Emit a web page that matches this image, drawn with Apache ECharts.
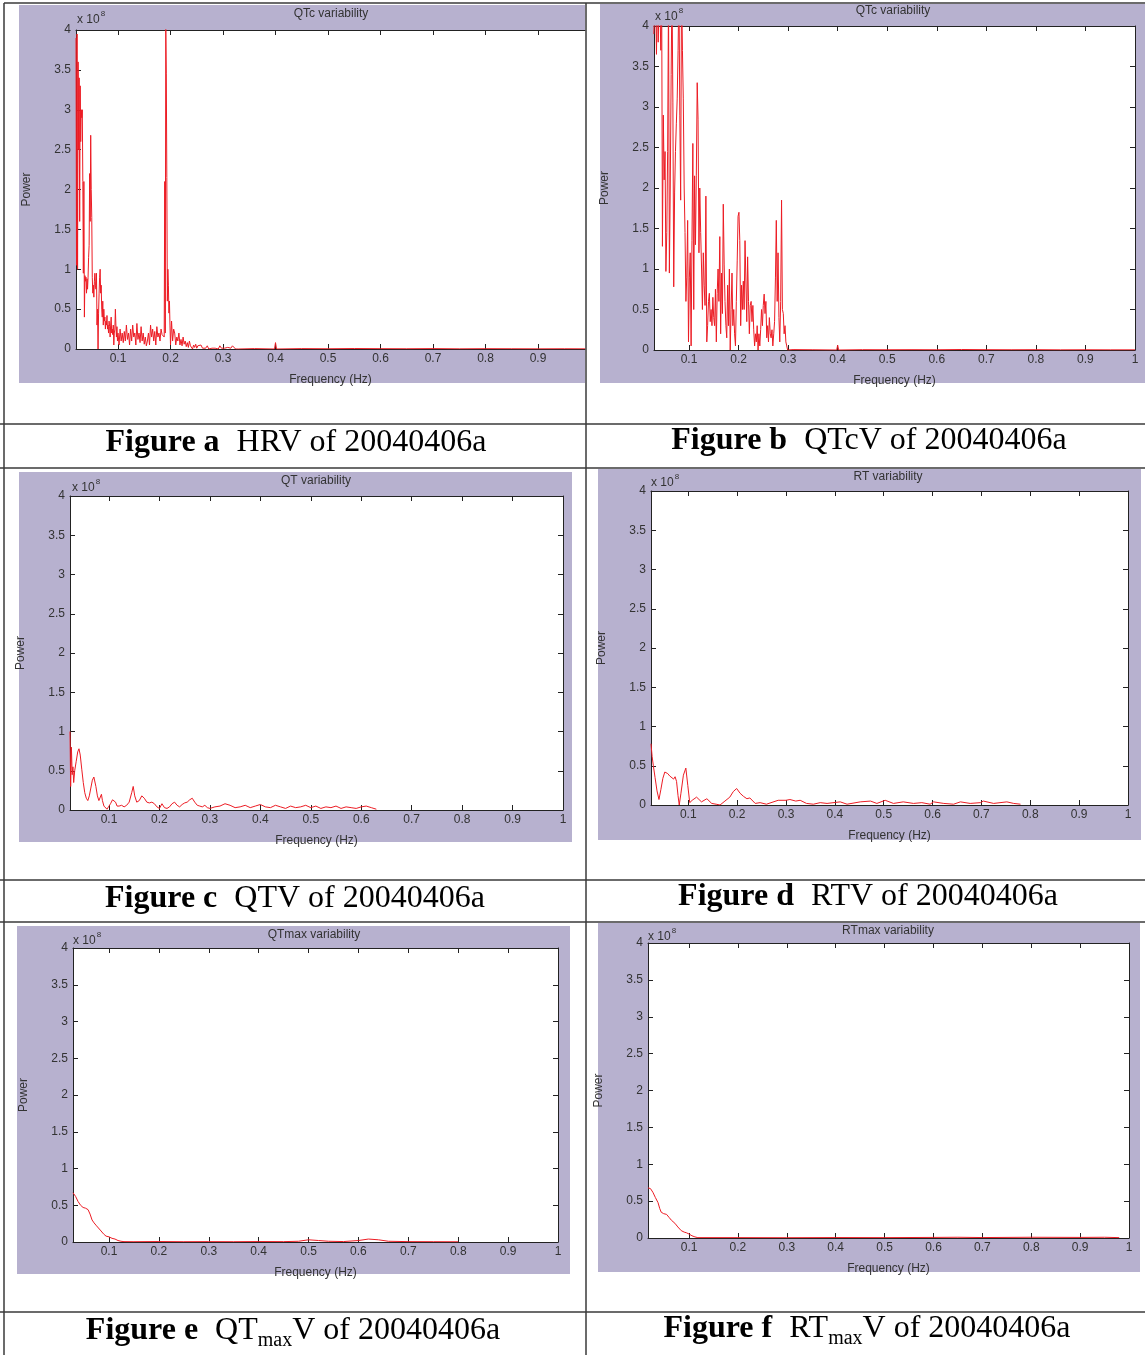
<!DOCTYPE html>
<html>
<head>
<meta charset="utf-8">
<title>Spectra of 20040406a</title>
<script src="https://cdn.jsdelivr.net/npm/echarts@6/dist/echarts.min.js"></script>
<style>
  html, body { margin: 0; padding: 0; background: #ffffff; }
  #chart { width: 1145px; height: 1355px; }
</style>
</head>
<body>
<div id="chart"></div>
<script>
// ---- tick labels ----
const freqTicks = [0.1, 0.2, 0.3, 0.4, 0.5, 0.6, 0.7, 0.8, 0.9, 1];
const powerTicks = [0, 0.5, 1, 1.5, 2, 2.5, 3, 3.5, 4];

// ---- panel titles and captions ----
const plotTitles = ['QTc variability', 'QTc variability', 'QT variability', 'RT variability', 'QTmax variability', 'RTmax variability'];
const captionLetters = ['a', 'b', 'c', 'd', 'e', 'f'];
const captionSignals = [['HRV'], ['QTcV'], ['QTV'], ['RTV'], ['QT', 'max', 'V'], ['RT', 'max', 'V']];
const recordId = '20040406a';

// ---- spectra: [frequency (Hz), power (x 10^8)] ----
const hrvPower = [
  [0.020,3.9],[0.021,1.05],[0.022,3.95],[0.023,1.0],[0.024,3.6],[0.025,2.5],[0.026,3.4],[0.027,1.6],[0.028,3.3],[0.029,2.6],
  [0.030,3.0],[0.031,2.9],[0.032,3.0],[0.033,2.1],[0.034,0.95],[0.035,2.1],[0.036,0.4],[0.037,0.92],[0.038,0.85],[0.039,0.9],
  [0.040,0.7],[0.041,0.88],[0.042,0.75],[0.043,0.9],[0.044,1.15],[0.045,1.3],[0.046,2.2],[0.047,1.6],[0.048,2.68],[0.049,2.0],
  [0.050,1.65],[0.051,0.9],[0.052,0.7],[0.053,0.8],[0.054,0.65],[0.055,0.85],[0.056,0.95],[0.057,0.8],[0.058,0.75],[0.059,0.95],
  [0.060,0.3],[0.061,0.5],[0.062,0.0],[0.063,0.45],[0.064,0.7],[0.065,0.9],[0.066,1.0],[0.067,0.7],[0.068,0.8],[0.069,0.5],
  [0.070,0.4],[0.071,0.6],[0.072,0.3],[0.073,0.5],[0.074,0.35],[0.075,0.4],[0.076,0.25],[0.077,0.35],[0.078,0.3],[0.079,0.42],
  [0.080,0.25],[0.081,0.3],[0.082,0.2],[0.083,0.35],[0.084,0.28],[0.085,0.15],[0.086,0.3],[0.087,0.4],[0.088,0.2],[0.089,0.25],
  [0.090,0.18],[0.091,0.3],[0.092,0.05],[0.093,0.2],[0.094,0.25],[0.095,0.5],[0.096,0.3],[0.097,0.15],[0.098,0.28],[0.099,0.1],
  [0.100,0.2],[0.102,0.05],[0.104,0.25],[0.106,0.1],[0.108,0.2],[0.110,0.08],[0.112,0.22],[0.114,0.1],[0.116,0.3],[0.118,0.12],
  [0.120,0.2],[0.122,0.05],[0.124,0.25],[0.126,0.1],[0.128,0.3],[0.130,0.15],[0.132,0.2],[0.134,0.05],[0.136,0.32],[0.138,0.12],
  [0.140,0.2],[0.142,0.08],[0.144,0.28],[0.146,0.1],[0.148,0.2],[0.150,0.06],[0.152,0.15],[0.154,0.04],[0.156,0.1],[0.158,0.2],
  [0.160,0.05],[0.162,0.3],[0.164,0.15],[0.166,0.25],[0.168,0.1],[0.170,0.22],[0.172,0.05],[0.174,0.28],[0.176,0.15],[0.178,0.2],
  [0.180,0.1],[0.182,0.25],[0.184,0.18],[0.186,0.2],[0.188,0.15],[0.189,2.1],[0.190,0.2],[0.191,4.05],[0.192,3.45],[0.193,2.15],
  [0.194,0.6],[0.195,1.0],[0.196,0.8],[0.197,0.45],[0.198,0.6],[0.199,0.3],[0.200,0.05],[0.202,0.35],[0.204,0.1],[0.206,0.25],
  [0.208,0.2],[0.210,0.05],[0.212,0.15],[0.214,0.1],[0.216,0.2],[0.218,0.05],[0.220,0.12],[0.222,0.04],[0.224,0.15],[0.226,0.06],
  [0.228,0.1],[0.230,0.03],[0.232,0.08],[0.234,0.02],[0.236,0.1],[0.238,0.04],[0.240,0.06],[0.242,0.0],[0.244,0.05],[0.246,0.02],
  [0.248,0.06],[0.250,0.01],[0.252,0.04],[0.255,0.02],[0.258,0.05],[0.261,0.01],[0.264,0.03],[0.267,0.01],[0.270,0.04],[0.273,0.0],
  [0.276,0.02],[0.279,0.01],[0.282,0.03],[0.285,0.01],[0.288,0.02],[0.291,0.0],[0.294,0.04],[0.297,0.01],[0.300,0.02],[0.303,0.01],
  [0.306,0.0],[0.309,0.02],[0.312,0.03],[0.315,0.01],[0.318,0.04],[0.321,0.02],[0.324,0.0],[0.327,0.01],[0.330,0.0],[0.360,0.005],
  [0.398,0.0],[0.400,0.08],[0.402,0.0],[0.450,0.005],[0.500,0.003],[0.550,0.006],[0.600,0.004],[0.650,0.003],[0.700,0.005],[0.750,0.002],
  [0.800,0.004],[0.850,0.003],[0.900,0.002],[0.950,0.003],[0.990,0.002]
];

const qtcvPower = [
  [0.0291,3.9],[0.0309,4.3],[0.0326,4.4],[0.0344,3.65],[0.0361,4.5],[0.0379,3.8],[0.0396,4.3],[0.0414,4.2],[0.0432,3.7],[0.0449,4.4],
  [0.0464,1.28],[0.0482,2.9],[0.0499,2.1],[0.0517,2.45],[0.0534,0.97],[0.0552,1.45],[0.0569,2.45],[0.0587,4.4],[0.0604,0.95],[0.0622,2.0],
  [0.0640,3.4],[0.0657,4.5],[0.0675,3.05],[0.0692,0.78],[0.0710,1.95],[0.0727,2.45],[0.0745,2.8],[0.0762,3.1],[0.0780,3.7],[0.0797,4.5],
  [0.0815,2.9],[0.0832,1.85],[0.0850,4.6],[0.0868,3.7],[0.0885,3.1],[0.0903,2.0],[0.0920,1.45],[0.0938,0.6],[0.0955,0.9],[0.0973,1.6],
  [0.0990,0.1],[0.1008,0.9],[0.1025,1.2],[0.1043,0.05],[0.1060,1.35],[0.1078,2.55],[0.1096,0.5],[0.1113,2.15],[0.1131,1.3],[0.1148,2.15],
  [0.1166,3.3],[0.1183,2.85],[0.1201,1.2],[0.1218,2.0],[0.1236,1.45],[0.1254,1.0],[0.1271,0.5],[0.1289,1.2],[0.1306,0.8],[0.1324,0.55],
  [0.1341,1.9],[0.1359,0.1],[0.1376,0.3],[0.1394,0.6],[0.1411,0.7],[0.1429,0.35],[0.1446,0.5],[0.1464,0.3],[0.1482,0.65],[0.1499,0.4],
  [0.1517,0.3],[0.1534,0.75],[0.1552,0.1],[0.1569,0.7],[0.1587,1.0],[0.1604,0.6],[0.1622,1.4],[0.1639,0.2],[0.1657,0.95],[0.1675,0.45],
  [0.1692,1.8],[0.1710,1.05],[0.1727,0.6],[0.1745,0.3],[0.1762,0.15],[0.1780,0.8],[0.1797,0.3],[0.1815,1.0],[0.1832,0.0],[0.1850,0.5],
  [0.1868,0.95],[0.1885,0.3],[0.1903,0.5],[0.1920,0.2],[0.1938,0.05],[0.1955,0.6],[0.1973,1.1],[0.1990,1.65],[0.2008,1.7],[0.2025,1.35],
  [0.2043,0.3],[0.2061,0.8],[0.2078,0.5],[0.2096,0.85],[0.2113,0.5],[0.2131,1.35],[0.2148,1.35],[0.2166,0.35],[0.2183,1.15],[0.2201,0.6],
  [0.2218,0.2],[0.2236,0.55],[0.2254,0.6],[0.2271,0.35],[0.2289,0.55],[0.2306,0.25],[0.2324,0.05],[0.2341,0.2],[0.2359,0.1],[0.2376,0.3],
  [0.2394,0.0],[0.2411,0.2],[0.2429,0.05],[0.2446,0.25],[0.2464,0.5],[0.2482,0.3],[0.2499,0.55],[0.2517,0.69],[0.2534,0.45],[0.2552,0.6],
  [0.2569,0.15],[0.2587,0.3],[0.2604,0.1],[0.2622,0.4],[0.2640,0.2],[0.2657,0.15],[0.2675,0.25],[0.2692,0.05],[0.2710,0.2],[0.2727,0.35],
  [0.2745,0.9],[0.2762,1.6],[0.2780,0.6],[0.2797,1.2],[0.2815,0.4],[0.2832,0.1],[0.2850,0.6],[0.2868,1.85],[0.2885,0.5],[0.2903,0.45],
  [0.2920,0.2],[0.2938,0.3],[0.2955,0.1],[0.2973,0.05],[0.2990,0.0],[0.3100,0.005],[0.3500,0.003],[0.3980,0.0],[0.4000,0.06],[0.4020,0.0],
  [0.4500,0.004],[0.5000,0.003],[0.5500,0.004],[0.6000,0.003],[0.6500,0.006],[0.7000,0.004],[0.7500,0.003],[0.8000,0.004],[0.8500,0.002],[0.9000,0.003],
  [0.9500,0.002],[1.0000,0.002]
];

const qtvPower = [
  [0.0227,1.0],[0.0240,0.3],[0.0255,0.8],[0.0270,0.45],[0.0285,0.55],[0.0300,0.35],[0.0320,0.5],[0.0350,0.62],[0.0380,0.74],[0.0405,0.78],
  [0.0430,0.7],[0.0460,0.52],[0.0490,0.35],[0.0520,0.22],[0.0550,0.15],[0.0580,0.12],[0.0610,0.18],[0.0640,0.28],[0.0670,0.38],[0.0700,0.42],
  [0.0720,0.4],[0.0740,0.3],[0.0770,0.18],[0.0800,0.12],[0.0830,0.14],[0.0850,0.2],[0.0870,0.12],[0.0900,0.05],[0.0930,0.03],[0.0960,0.01],
  [0.0990,0.04],[0.1030,0.08],[0.1070,0.13],[0.1100,0.15],[0.1130,0.1],[0.1160,0.05],[0.1200,0.05],[0.1250,0.06],[0.1300,0.04],[0.1350,0.06],
  [0.1400,0.1],[0.1450,0.22],[0.1480,0.3],[0.1510,0.18],[0.1550,0.1],[0.1600,0.12],[0.1650,0.18],[0.1700,0.15],[0.1750,0.1],[0.1800,0.09],
  [0.1850,0.1],[0.1900,0.08],[0.1950,0.04],[0.2000,0.02],[0.2050,0.08],[0.2100,0.03],[0.2150,0.02],[0.2200,0.04],[0.2250,0.08],[0.2300,0.1],
  [0.2350,0.06],[0.2400,0.04],[0.2450,0.07],[0.2500,0.09],[0.2550,0.1],[0.2600,0.13],[0.2650,0.15],[0.2700,0.1],[0.2750,0.06],[0.2800,0.05],
  [0.2850,0.04],[0.2900,0.06],[0.2950,0.03],[0.3000,0.02],[0.3100,0.04],[0.3200,0.05],[0.3300,0.08],[0.3400,0.06],[0.3500,0.03],[0.3600,0.04],
  [0.3700,0.06],[0.3800,0.03],[0.3900,0.05],[0.4000,0.07],[0.4100,0.04],[0.4200,0.03],[0.4300,0.06],[0.4400,0.04],[0.4500,0.02],[0.4600,0.05],
  [0.4700,0.03],[0.4800,0.04],[0.4900,0.06],[0.5000,0.03],[0.5100,0.05],[0.5200,0.02],[0.5300,0.04],[0.5400,0.03],[0.5500,0.05],[0.5600,0.02],
  [0.5700,0.04],[0.5800,0.03],[0.5900,0.02],[0.6000,0.04],[0.6100,0.05],[0.6200,0.03],[0.6300,0.01]
];

const rtvPower = [
  [0.0237,0.78],[0.0260,0.62],[0.0285,0.5],[0.0320,0.35],[0.0360,0.18],[0.0400,0.07],[0.0440,0.2],[0.0480,0.34],[0.0520,0.42],[0.0545,0.43],
  [0.0580,0.4],[0.0620,0.37],[0.0660,0.36],[0.0700,0.33],[0.0730,0.36],[0.0760,0.3],[0.0790,0.12],[0.0815,0.0],[0.0850,0.15],[0.0900,0.38],
  [0.0950,0.47],[0.0990,0.25],[0.1030,0.03],[0.1080,0.06],[0.1170,0.1],[0.1270,0.04],[0.1380,0.08],[0.1480,0.02],[0.1570,0.01],[0.1650,0.0],
  [0.1750,0.05],[0.1850,0.1],[0.1920,0.17],[0.1990,0.21],[0.2060,0.15],[0.2130,0.11],[0.2200,0.08],[0.2260,0.09],[0.2370,0.02],[0.2470,0.03],
  [0.2600,0.01],[0.2840,0.06],[0.3000,0.06],[0.3080,0.07],[0.3200,0.05],[0.3290,0.06],[0.3420,0.02],[0.3560,0.01],[0.3700,0.03],[0.3840,0.02],
  [0.4110,0.04],[0.4250,0.01],[0.4520,0.04],[0.4730,0.05],[0.4860,0.02],[0.5030,0.06],[0.5200,0.02],[0.5400,0.04],[0.5610,0.02],[0.5780,0.03],
  [0.5950,0.01],[0.6020,0.04],[0.6230,0.02],[0.6430,0.01],[0.6570,0.04],[0.6770,0.02],[0.6980,0.03],[0.7040,0.05],[0.7250,0.02],[0.7520,0.04],
  [0.7660,0.02],[0.7800,0.01]
];

const qtmaxvPower = [
  [0.0278,0.67],[0.0330,0.62],[0.0380,0.55],[0.0430,0.5],[0.0480,0.47],[0.0530,0.46],[0.0580,0.44],[0.0620,0.38],[0.0660,0.3],[0.0700,0.26],
  [0.0750,0.22],[0.0790,0.2],[0.0840,0.15],[0.0890,0.11],[0.0940,0.08],[0.1000,0.07],[0.1060,0.05],[0.1120,0.04],[0.1180,0.02],[0.1240,0.01],
  [0.1300,0.005],[0.1500,0.004],[0.2000,0.006],[0.2500,0.004],[0.3000,0.005],[0.3500,0.004],[0.4000,0.006],[0.4500,0.005],[0.4800,0.01],[0.5000,0.03],
  [0.5200,0.02],[0.5400,0.01],[0.5700,0.006],[0.6000,0.02],[0.6200,0.04],[0.6400,0.03],[0.6600,0.01],[0.7000,0.005],[0.7500,0.004],[0.8000,0.003]
];

const rtmaxvPower = [
  [0.0160,0.68],[0.0210,0.67],[0.0260,0.62],[0.0310,0.55],[0.0365,0.48],[0.0400,0.4],[0.0430,0.35],[0.0480,0.33],[0.0540,0.32],[0.0590,0.28],
  [0.0640,0.24],[0.0710,0.2],[0.0770,0.15],[0.0840,0.1],[0.0900,0.08],[0.0950,0.07],[0.1010,0.05],[0.1060,0.03],[0.1120,0.015],[0.1180,0.005],
  [0.1220,0.0],[0.2000,0.005],[0.3000,0.004],[0.4000,0.006],[0.5000,0.005],[0.6000,0.008],[0.6500,0.01],[0.7000,0.006],[0.8000,0.01],[0.9000,0.008],
  [0.9500,0.01],[0.9800,0.005]
];

const spectra = [hrvPower, qtcvPower, qtvPower, rtvPower, qtmaxvPower, rtmaxvPower];

// ---- page layout (pixels) ----
const panelLayout = [
  { grid: [76, 30, 509, 319],  xMin: 0.020,  xMax: 0.9895, right: false, bg: [19, 5, 566, 378],    title: [331, 14],  expo: [77, 18],   cap: [296, 443] },
  { grid: [654, 26, 481, 324], xMin: 0.0294, xMax: 1,      right: true,  bg: [600, 4, 545, 379],   title: [893, 11],  expo: [655, 15],  cap: [869, 441] },
  { grid: [70, 496, 493, 314], xMin: 0.0227, xMax: 1,      right: true,  bg: [19, 472, 553, 370],  title: [316, 481], expo: [72, 486],  cap: [295, 899] },
  { grid: [651, 491, 477, 314],xMin: 0.0237, xMax: 1,      right: true,  bg: [598, 469, 543, 371], title: [888, 477], expo: [651, 481], cap: [868, 897] },
  { grid: [73, 948, 485, 294], xMin: 0.0278, xMax: 1,      right: true,  bg: [17, 926, 553, 348],  title: [314, 935], expo: [73, 939],  cap: [293, 1331] },
  { grid: [648, 943, 481, 295],xMin: 0.016,  xMax: 1,      right: true,  bg: [598, 923, 542, 349], title: [888, 931], expo: [648, 935], cap: [867, 1329] }
];

// table rules of the figure layout
const ruleLines = [
  [4, 3, 1145, 3], [0, 424, 1145, 424], [0, 468, 1145, 468], [0, 880, 1145, 880],
  [0, 922, 1145, 922], [0, 1312, 1145, 1312], [4, 3, 4, 1355], [586, 3, 586, 1355]
];

const axisColor = '#222';
const textColor = '#333';
const sansFont = 'Liberation Sans, Arial, sans-serif';
const serifFont = 'Liberation Serif, Times New Roman, serif';
const lineColor = '#ec1c24';
const panelColor = '#b7b1cf';

const grids = [], xAxes = [], yAxes = [], series = [], graphics = [];

panelLayout.forEach((p, i) => {
  const [gl, gt, gw, gh] = p.grid;
  grids.push({ left: gl, top: gt, width: gw, height: gh, show: true, backgroundColor: '#ffffff', borderWidth: 0 });
  const ticks = freqTicks.filter(v => v <= p.xMax + 1e-9);
  const tickLabelStyle = { color: textColor, fontSize: 12, fontFamily: sansFont };
  xAxes.push({
    gridIndex: i, type: 'value', position: 'bottom', min: p.xMin, max: p.xMax,
    axisLine: { show: true, onZero: false, lineStyle: { color: axisColor, width: 1 } },
    axisTick: { show: true, inside: true, length: 5, customValues: ticks, lineStyle: { color: axisColor } },
    axisLabel: { customValues: ticks, margin: 4, formatter: v => String(v), ...tickLabelStyle },
    splitLine: { show: false },
    name: 'Frequency (Hz)', nameLocation: 'middle', nameGap: 25,
    nameTextStyle: { color: textColor, fontSize: 12, fontFamily: sansFont }
  });
  xAxes.push({
    gridIndex: i, type: 'value', position: 'top', min: p.xMin, max: p.xMax,
    axisLine: { show: true, onZero: false, lineStyle: { color: axisColor, width: 1 } },
    axisTick: { show: true, inside: true, length: 5, customValues: ticks, lineStyle: { color: axisColor } },
    axisLabel: { show: false }, splitLine: { show: false }
  });
  yAxes.push({
    gridIndex: i, type: 'value', position: 'left', min: 0, max: 4, interval: 0.5,
    axisLine: { show: true, onZero: false, lineStyle: { color: axisColor, width: 1 } },
    axisTick: { show: true, inside: true, length: 5, lineStyle: { color: axisColor } },
    axisLabel: { margin: 5, formatter: v => String(v), ...tickLabelStyle },
    splitLine: { show: false },
    name: 'Power', nameLocation: 'middle', nameGap: 43, nameRotate: 90,
    nameTextStyle: { color: textColor, fontSize: 12, fontFamily: sansFont }
  });
  yAxes.push({
    gridIndex: i, type: 'value', position: 'right', min: 0, max: 4, interval: 0.5, show: p.right,
    axisLine: { show: true, onZero: false, lineStyle: { color: axisColor, width: 1 } },
    axisTick: { show: true, inside: true, length: 5, lineStyle: { color: axisColor } },
    axisLabel: { show: false }, splitLine: { show: false }
  });
  series.push({
    type: 'line', xAxisIndex: 2 * i, yAxisIndex: 2 * i, data: spectra[i],
    showSymbol: false, clip: true, animation: false,
    lineStyle: { color: lineColor, width: 1 }
  });

  // lavender figure background
  graphics.push({
    type: 'rect', z: -100, silent: true,
    shape: { x: p.bg[0], y: p.bg[1], width: p.bg[2], height: p.bg[3] },
    style: { fill: panelColor }
  });
  // plot title
  graphics.push({
    type: 'text', z: 100, silent: true,
    style: { text: plotTitles[i], x: p.title[0], y: p.title[1], align: 'center', verticalAlign: 'middle',
             font: '12px ' + sansFont, fill: textColor }
  });
  // axis exponent
  graphics.push({
    type: 'text', z: 100, silent: true,
    style: { text: '{m|x 10}{e|8}', x: p.expo[0], y: p.expo[1], align: 'left', verticalAlign: 'middle',
             rich: { m: { fontSize: 12, fontFamily: sansFont, fill: textColor, lineHeight: 16, verticalAlign: 'bottom' },
                     e: { fontSize: 8, fontFamily: sansFont, fill: textColor, lineHeight: 16, verticalAlign: 'top', padding: [0, 0, 0, 1] } } }
  });
  // caption
  const sig = captionSignals[i];
  const sigText = sig.length === 1
    ? '{n|' + sig[0] + ' of ' + recordId + '}'
    : '{n|' + sig[0] + '}{s|' + sig[1] + '}{n|' + sig[2] + ' of ' + recordId + '}';
  graphics.push({
    type: 'text', z: 100, silent: true,
    style: { text: '{b|Figure ' + captionLetters[i] + '}' + sigText, x: p.cap[0], y: p.cap[1],
             align: 'center', verticalAlign: 'middle',
             rich: {
               b: { fontSize: 32, fontWeight: 'bold', fontFamily: serifFont, fill: '#000', lineHeight: 40, padding: [0, 17, 0, 0] },
               n: { fontSize: 32, fontFamily: serifFont, fill: '#000', lineHeight: 40 },
               s: { fontSize: 20, fontFamily: serifFont, fill: '#000', lineHeight: 28, verticalAlign: 'bottom' }
             } }
  });
});

ruleLines.forEach(l => {
  graphics.push({
    type: 'line', z: 50, silent: true,
    shape: { x1: l[0], y1: l[1], x2: l[2], y2: l[3] },
    style: { stroke: '#3a3a3a', lineWidth: 1.5 }
  });
});

const chart = echarts.init(document.getElementById('chart'), null, { renderer: 'canvas' });
chart.setOption({
  backgroundColor: '#ffffff',
  animation: false,
  grid: grids,
  xAxis: xAxes,
  yAxis: yAxes,
  series: series,
  graphic: { elements: graphics }
});
</script>
</body>
</html>
